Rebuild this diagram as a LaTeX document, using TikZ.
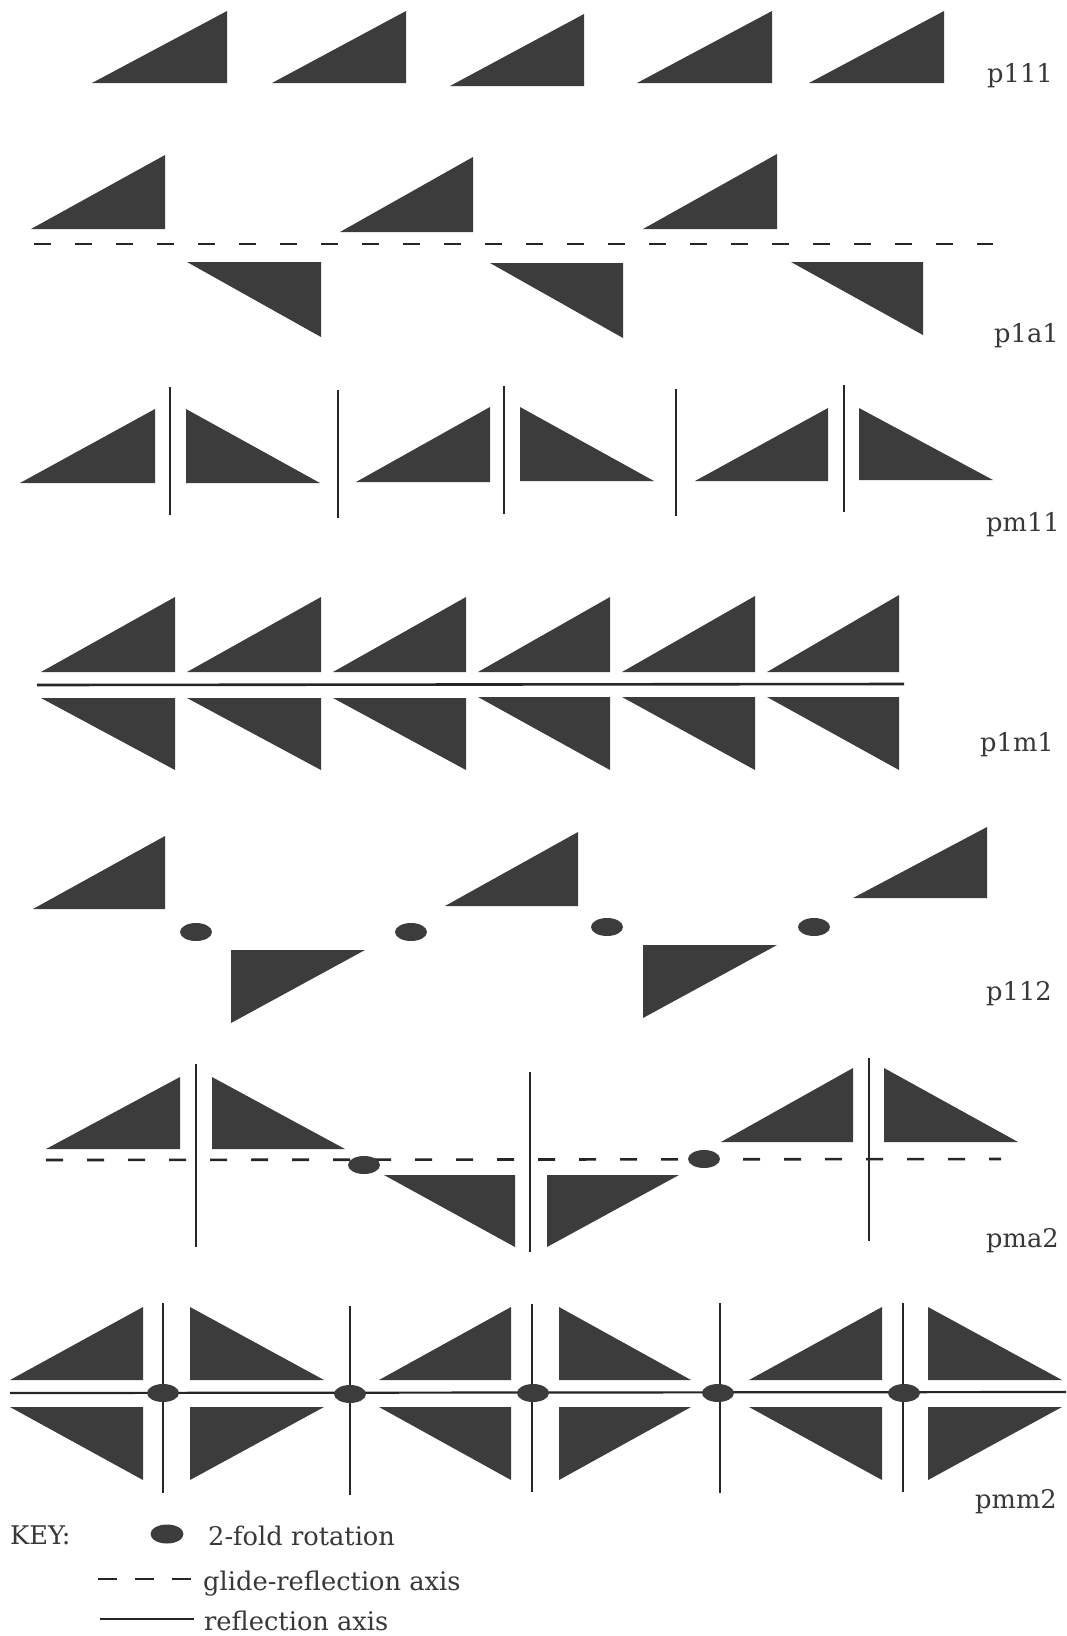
\documentclass[tikz,border=0pt]{standalone}
\usepackage{fontspec}
\setmainfont{DejaVu Serif}
\usetikzlibrary{shapes.geometric}
\definecolor{trifill}{HTML}{3C3C3C}
\definecolor{axis}{HTML}{262626}
\newcommand\triR[4]{\fill[tri] (#1,#4) -- (#2,#4) -- (#2,#3) -- cycle;}
\newcommand\triL[4]{\fill[tri] (#1,#4) -- (#2,#4) -- (#1,#3) -- cycle;}
\newcommand\triRd[4]{\fill[tri] (#1,#3) -- (#2,#3) -- (#2,#4) -- cycle;}
\newcommand\triLd[4]{\fill[tri] (#1,#3) -- (#2,#3) -- (#1,#4) -- cycle;}
\tikzset{
  tri/.style={fill=trifill},
  mirror/.style={draw=axis, line width=1.4pt},
  hmirror/.style={draw=axis, line width=2.6pt},
  glide/.style={draw=axis, line width=2.6pt, dash pattern=on 17pt off 24pt},
  rotdot/.style={ellipse, fill=trifill, draw=none, inner sep=0pt, minimum width=32pt, minimum height=18pt},
  lbl/.style={anchor=base west, inner sep=0pt, font=\fontsize{25.7}{31}\selectfont, text=black!78},
}
\begin{document}
\begin{tikzpicture}[x=1pt,y=-1pt]
\fill[white] (0,0) rectangle (1066,1636);
\useasboundingbox (0,0) rectangle (1066,1636);

% ---------- p111 ----------
\triR{92}{227}{11}{83}
\triR{272}{406}{11}{83}
\triR{450}{584}{14}{86}
\triR{637}{772}{11}{83}
\triR{809}{944}{11}{83}
\node[lbl] (l1) at (987,82) {p111};

% ---------- p1a1 ----------
\triR{31}{165}{155}{229}
\triR{340}{473}{157}{232}
\triR{643}{777}{154}{229}
\coordinate (g1a) at (34,244);
\coordinate (g1b) at (993,244);
\draw[glide] (g1a) -- (g1b);
\triRd{187}{321}{262}{337}
\triRd{490}{623}{263}{338}
\triRd{791}{923}{262}{335}
\node[lbl] (l2) at (994,342) {p1a1};

% ---------- pm11 ----------
\triR{20}{155}{409}{483}
\triL{186}{320}{409}{483}
\triR{356}{490}{407}{482}
\triL{520}{654}{407}{481}
\triR{695}{828}{408}{481}
\triL{859}{993}{408}{480}
\coordinate (m1a) at (170,387); \coordinate (m1b) at (170,515);
\coordinate (m2a) at (338,390); \coordinate (m2b) at (338,518);
\coordinate (m3a) at (504,386); \coordinate (m3b) at (504,514);
\coordinate (m4a) at (676,389); \coordinate (m4b) at (676,516);
\coordinate (m5a) at (844,385); \coordinate (m5b) at (844,512);
\draw[mirror] (m1a) -- (m1b);
\draw[mirror] (m2a) -- (m2b);
\draw[mirror] (m3a) -- (m3b);
\draw[mirror] (m4a) -- (m4b);
\draw[mirror] (m5a) -- (m5b);
\node[lbl] (l3) at (986,531) {pm11};

% ---------- p1m1 ----------
\triR{41}{175}{597}{672}
\triR{187}{321}{597}{672}
\triR{333}{466}{597}{672}
\triR{478}{610}{597}{672}
\triR{622}{755}{596}{672}
\triR{767}{899}{595}{672}
\coordinate (h1a) at (37,685); \coordinate (h1b) at (904,684);
\draw[hmirror] (h1a) -- (h1b);
\triRd{41}{175}{698}{770}
\triRd{187}{321}{698}{770}
\triRd{333}{466}{698}{770}
\triRd{478}{610}{697}{770}
\triRd{622}{755}{697}{770}
\triRd{767}{899}{697}{770}
\node[lbl] (l4) at (980,751) {p1m1};

% ---------- p112 ----------
\triR{33}{165}{836}{909}
\triR{445}{578}{832}{906}
\triR{853}{987}{827}{898}
\node[rotdot] (r1) at (196,932) {};
\node[rotdot] (r2) at (411,932) {};
\node[rotdot] (r3) at (607,927) {};
\node[rotdot] (r4) at (814,927) {};
\triLd{231}{365}{950}{1023}
\triLd{643}{777}{945}{1018}
\node[lbl] (l5) at (986,1000) {p112};

% ---------- pma2 ----------
\triR{46}{180}{1077}{1149}
\triL{212}{345}{1077}{1149}
\triR{721}{853}{1068}{1142}
\triL{884}{1018}{1068}{1142}
\coordinate (g2a) at (46,1160);
\coordinate (g2b) at (1001,1159);
\draw[glide] (g2a) -- (g2b);
\triRd{384}{515}{1175}{1247}
\triLd{547}{679}{1175}{1247}
\coordinate (v1a) at (196,1064); \coordinate (v1b) at (196,1247);
\coordinate (v2a) at (530,1072); \coordinate (v2b) at (530,1252);
\coordinate (v3a) at (869,1058); \coordinate (v3b) at (869,1241);
\draw[mirror] (v1a) -- (v1b);
\draw[mirror] (v2a) -- (v2b);
\draw[mirror] (v3a) -- (v3b);
\node[rotdot] (r5) at (364,1165) {};
\node[rotdot] (r6) at (704,1159) {};
\node[lbl] (l6) at (986,1247) {pma2};

% ---------- pmm2 ----------
\triR{10}{143}{1307}{1380}
\triL{190}{324}{1307}{1380}
\triR{379}{511}{1307}{1380}
\triL{559}{691}{1307}{1380}
\triR{749}{882}{1307}{1380}
\triL{928}{1062}{1307}{1380}
\triRd{10}{143}{1407}{1480}
\triLd{190}{324}{1407}{1480}
\triRd{379}{511}{1407}{1480}
\triLd{559}{691}{1407}{1480}
\triRd{749}{882}{1407}{1480}
\triLd{928}{1062}{1407}{1480}
\coordinate (h2a) at (10,1393); \coordinate (h2b) at (1066,1392);
\draw[hmirror, line width=2.2pt] (h2a) -- (h2b);
\coordinate (w1a) at (163,1303); \coordinate (w1b) at (163,1493);
\coordinate (w2a) at (350,1306); \coordinate (w2b) at (350,1495);
\coordinate (w3a) at (532,1304); \coordinate (w3b) at (532,1492);
\coordinate (w4a) at (720,1303); \coordinate (w4b) at (720,1493);
\coordinate (w5a) at (903,1303); \coordinate (w5b) at (903,1492);
\draw[mirror] (w1a) -- (w1b);
\draw[mirror] (w2a) -- (w2b);
\draw[mirror] (w3a) -- (w3b);
\draw[mirror] (w4a) -- (w4b);
\draw[mirror] (w5a) -- (w5b);
\node[rotdot] (r7) at (163,1393) {};
\node[rotdot] (r8) at (350,1394) {};
\node[rotdot] (r9) at (533,1393) {};
\node[rotdot] (r10) at (718,1393) {};
\node[rotdot] (r11) at (904,1393) {};
\node[lbl] (l7) at (975,1508) {pmm2};

% ---------- KEY ----------
\node[lbl] (key) at (10,1544) {KEY:};
\node[rotdot, minimum width=33pt, minimum height=19pt] (kdot) at (167,1534) {};
\node[lbl] (k1) at (208,1545) {2-fold rotation};
\coordinate (kga) at (98,1579); \coordinate (kgb) at (193,1579);
\draw[draw=axis, line width=2pt, dash pattern=on 19pt off 18pt] (kga) -- (kgb);
\node[lbl] (k2) at (203,1590) {glide-reflection axis};
\coordinate (kra) at (100,1619); \coordinate (krb) at (194,1619);
\draw[draw=axis, line width=1.6pt] (kra) -- (krb);
\node[lbl] (k3) at (204,1630) {reflection axis};
\end{tikzpicture}
\end{document}
